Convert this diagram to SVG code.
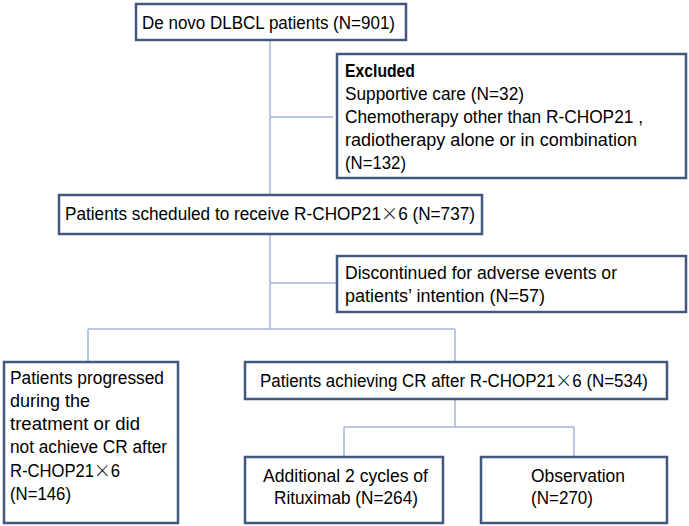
<svg xmlns="http://www.w3.org/2000/svg" width="689" height="526" viewBox="0 0 689 526">
<style>
.box{fill:#fff;stroke:#44577f;stroke-width:2.5}
.ln{fill:none;stroke:#a3b8dd;stroke-width:1.5}
text{font-family:"Liberation Sans","Noto Sans CJK SC",sans-serif;font-size:17.5px;fill:#000}
.b{font-weight:bold}
.x{font-family:"Noto Sans CJK SC","Noto Sans CJK JP",sans-serif;font-weight:300}
</style>
<rect width="689" height="526" fill="#fff"/>
<g id="connectors">
<path class="ln" d="M270 40V195M270 117H333"/>
<path class="ln" d="M270 234V329M270 283H337M88 329H455M88 329V362M455 329V362"/>
<path class="ln" d="M455 399V427M344 427H574M344 427V457M574 427V457"/>
</g>
<g id="n1">
<rect class="box" x="136" y="4" width="270" height="36"/>
<text x="142" y="29" textLength="253" lengthAdjust="spacingAndGlyphs">De novo DLBCL patients (N=901)</text>
</g>
<g id="n_excluded">
<rect class="box" x="337" y="54" width="349" height="124"/>
<text class="b" x="345" y="77" textLength="70" lengthAdjust="spacingAndGlyphs">Excluded</text>
<text x="345" y="100" textLength="179" lengthAdjust="spacingAndGlyphs">Supportive care (N=32)</text>
<text x="345" y="123" textLength="298" lengthAdjust="spacingAndGlyphs">Chemotherapy other than R-CHOP21 ,</text>
<text x="345" y="146" textLength="292" lengthAdjust="spacingAndGlyphs">radiotherapy alone or in combination</text>
<text x="345" y="169" textLength="61" lengthAdjust="spacingAndGlyphs">(N=132)</text>
</g>
<g id="n2">
<rect class="box" x="59" y="195" width="423" height="39"/>
<text x="65" y="220" textLength="410" lengthAdjust="spacingAndGlyphs">Patients scheduled to receive R-CHOP21<tspan class="x">×</tspan>6 (N=737)</text>
</g>
<g id="n_discontinued">
<rect class="box" x="337" y="256" width="349" height="56"/>
<text x="345" y="279" textLength="272" lengthAdjust="spacingAndGlyphs">Discontinued for adverse events or</text>
<text x="345" y="302" textLength="200" lengthAdjust="spacingAndGlyphs">patients’ intention (N=57)</text>
</g>
<g id="n_progressed">
<rect class="box" x="4" y="362" width="174" height="161"/>
<text x="10" y="384" textLength="154" lengthAdjust="spacingAndGlyphs">Patients progressed</text>
<text x="10" y="407" textLength="80" lengthAdjust="spacingAndGlyphs">during the</text>
<text x="10" y="430" textLength="130" lengthAdjust="spacingAndGlyphs">treatment or did</text>
<text x="10" y="453" textLength="157" lengthAdjust="spacingAndGlyphs">not achieve CR after</text>
<text x="10" y="477" textLength="110" lengthAdjust="spacingAndGlyphs">R-CHOP21<tspan class="x">×</tspan>6</text>
<text x="10" y="500" textLength="61" lengthAdjust="spacingAndGlyphs">(N=146)</text>
</g>
<g id="n_cr">
<rect class="box" x="245" y="362" width="422" height="37"/>
<text x="260" y="387" textLength="388" lengthAdjust="spacingAndGlyphs">Patients achieving CR after R-CHOP21<tspan class="x">×</tspan>6 (N=534)</text>
</g>
<g id="n_rituximab">
<rect class="box" x="245" y="457" width="198" height="66"/>
<text x="263" y="482" textLength="165" lengthAdjust="spacingAndGlyphs">Additional 2 cycles of</text>
<text x="274" y="504" textLength="144" lengthAdjust="spacingAndGlyphs">Rituximab (N=264)</text>
</g>
<g id="n_observation">
<rect class="box" x="481" y="457" width="186" height="66"/>
<text x="531" y="482" textLength="94" lengthAdjust="spacingAndGlyphs">Observation</text>
<text x="531" y="504" textLength="62" lengthAdjust="spacingAndGlyphs">(N=270)</text>
</g>
</svg>
